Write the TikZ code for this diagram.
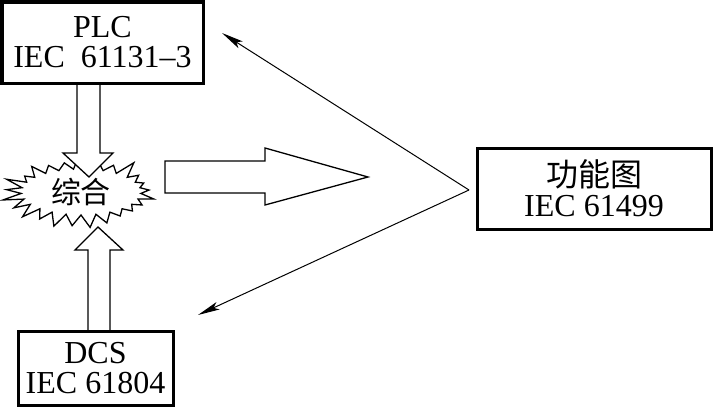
\documentclass[tikz,border=0pt]{standalone}
\usepackage{fontspec}
\setmainfont{Liberation Serif}
\newfontfamily\cjk{Noto Sans CJK SC}
\usetikzlibrary{positioning,shapes.symbols,arrows.meta}

\begin{document}
\begin{tikzpicture}[x=1pt,y=-1pt,
  box/.style={draw, line width=3pt, align=center, inner sep=0pt, font=\fontsize{32}{30}\selectfont},
  hollow/.style={draw, line width=1.3pt, fill=white, line join=miter},
  thinarrow/.style={line width=1pt, -{Stealth[length=22pt,width=8pt,inset=5pt]}}]
\useasboundingbox (0,0) rectangle (716,415);

% the burst in the middle
\node[draw, line width=1.3pt, fill=white, starburst, starburst points=25,
  starburst point height=20pt, random starburst=7, minimum width=160pt,
  minimum height=86pt, inner sep=0pt, font=\cjk\fontsize{30}{30}\selectfont] (mix) at (81,192) {综合};

% hollow arrows
\draw[hollow] (77,83) -- (77,153) -- (63,153) -- (89,177) -- (113,153) -- (100,153) -- (100,83);
\draw[hollow] (88,331) -- (88,250) -- (75,250) -- (98,227) -- (123,250) -- (110,250) -- (110,331);
\draw[hollow] (165,161) -- (265,161) -- (265,148) -- (368,177) -- (265,205) -- (265,193) -- (165,193) -- cycle;

\node[box, minimum width=201pt, minimum height=81pt] (plc) at (102.5,42.5) {PLC\\IEC\ \ 61131--3};
\node[box, minimum width=155pt, minimum height=74pt] (dcs) at (95.5,368) {DCS\\IEC 61804};
\node[box, minimum width=234pt, minimum height=81pt] (fb) at (594,188.5) {{\cjk 功能图}\\IEC 61499};

\coordinate (apex) at (469,190);
\coordinate (up) at (222,33);
\coordinate (down) at (198,315);
\draw[thinarrow] (apex) -- (up);
\draw[thinarrow] (apex) -- (down);

\end{tikzpicture}
\end{document}
